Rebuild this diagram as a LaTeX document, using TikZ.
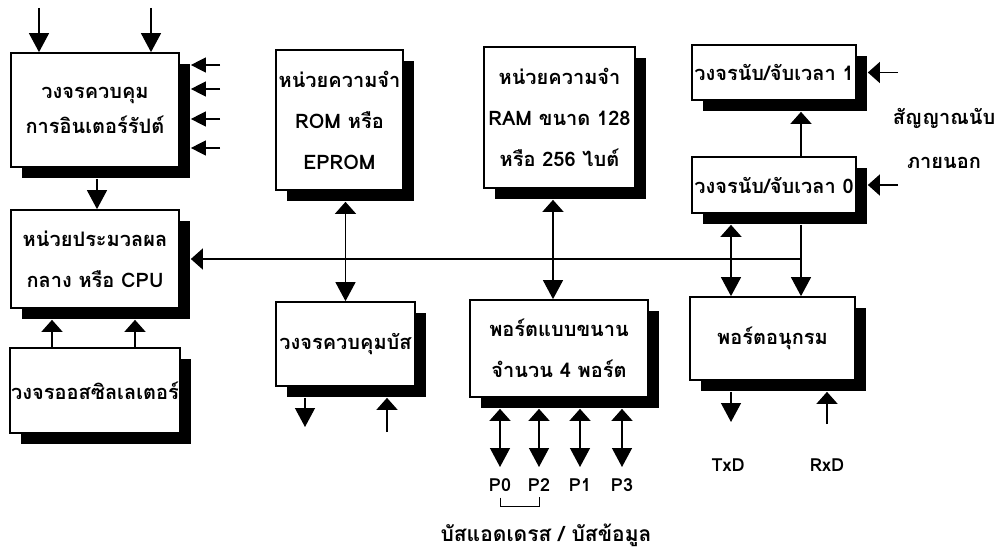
\documentclass[tikz,border=0pt]{standalone}
\usepackage{fontspec}
\newfontfamily\thaifont[Script=Thai]{Loma}
\usetikzlibrary{arrows.meta,shadows}

\begin{document}
\begin{tikzpicture}[x=1pt,y=-1pt,line width=1.3pt,
		font=\thaifont\bfseries\fontsize{20}{22}\selectfont]

		\tikzset{blk/.style={draw, line width=1.7pt, fill=white,
								align=center, inner sep=1pt,
								drop shadow={shadow xshift=11pt, shadow yshift=-11pt,
									opacity=1, fill=black},
								font=\thaifont\bfseries\fontsize{20}{41}\selectfont},
				 pinlbl/.style={font=\thaifont\bfseries\fontsize{18}{20}\selectfont},
				 tipbig/.tip={Triangle[width=20pt,length=19pt]},
				 tipflat/.tip={Triangle[width=21pt,length=12pt]},
				 tipsmall/.tip={Triangle[width=15pt,length=15pt]}}

		\useasboundingbox (0,0) rectangle (1001,553);

		% left column
		\node[blk, minimum width=168pt, minimum height=114pt,
			font=\thaifont\bfseries\fontsize{20}{35}\selectfont] (intc) at (95,110)
			{วงจรควบคุม\\การอินเตอร์รัปต์};
		\node[blk, minimum width=168pt, minimum height=98pt] (cpu) at (95,259)
			{หน่วยประมวลผล\\กลาง หรือ CPU};
		\node[blk, minimum width=168pt, minimum height=85pt] (osc) at (95,390.5)
			{วงจรออสซิลเลเตอร์};

		% memories and ports
		\node[blk, minimum width=127pt, minimum height=140pt] (rom) at (339.5,120)
			{หน่วยความจำ\\ROM หรือ\\EPROM};
		\node[blk, minimum width=139pt, minimum height=84pt] (busc) at (345.5,344)
			{วงจรควบคุมบัส};
		\node[blk, minimum width=151pt, minimum height=141pt] (ram) at (559.5,117.5)
			{หน่วยความจำ\\RAM ขนาด 128\\หรือ 256 ไบต์};
		\node[blk, minimum width=178pt, minimum height=97pt] (pport) at (559,348.5)
			{พอร์ตแบบขนาน\\จำนวน 4 พอร์ต};

		% timers and serial port
		\node[blk, minimum width=164pt, minimum height=55pt] (tmr1) at (774,72.5)
			{วงจรนับ/จับเวลา 1};
		\node[blk, minimum width=164pt, minimum height=56pt] (tmr0) at (774,185)
			{วงจรนับ/จับเวลา 0};
		\node[blk, minimum width=165pt, minimum height=83pt] (sport) at (772.5,338.5)
			{พอร์ตอนุกรม};

		\node (cntlbl) at (944,118) {สัญญาณนับ};
		\node (extlbl) at (944,163) {ภายนอก};

		% interrupt inputs
		\coordinate (irqa) at (39,8);
		\coordinate (irqb) at (151,8);
		\draw[-tipbig] (irqa) -- (irqa |- intc.north);
		\draw[-tipbig] (irqb) -- (irqb |- intc.north);
		\foreach \y [count=\i] in {65,89,119,148} {
			\coordinate (irq\i) at (220,\y);
			\draw[-tipsmall] (irq\i) -- ([xshift=11pt]intc.east |- irq\i);
		}
		\draw[-tipbig] ([xshift=2pt,yshift=-11pt]intc.south) -- ([xshift=2pt]cpu.north);

		% clock
		\draw[-tipflat] ([xshift=-43pt]osc.north) -- ([xshift=-43pt,yshift=-11pt]cpu.south);
		\draw[-tipflat] ([xshift=40pt]osc.north) -- ([xshift=40pt,yshift=-11pt]cpu.south);

		% internal bus
		\coordinate (busj) at ([xshift=27pt]tmr0.south |- cpu.east);
		\draw[-tipflat] (busj) -- ([xshift=11pt]cpu.east);
		\draw[tipflat-tipbig] ([yshift=-11pt]rom.south -| busc.north) -- (busc.north);
		\draw[tipflat-tipbig] ([xshift=-6.5pt,yshift=-11pt]ram.south)
			-- ([xshift=-6.5pt]ram.south |- pport.north);
		\draw[tipflat-tipbig] ([xshift=-43pt,yshift=-11pt]tmr0.south)
			-- ([xshift=-43pt]tmr0.south |- sport.north);
		\draw[-tipbig] ([xshift=27pt,yshift=-11pt]tmr0.south)
			-- ([xshift=27pt]tmr0.south |- sport.north);
		\draw[-tipflat] ([xshift=27pt]tmr0.north) -- ([xshift=27pt,yshift=-11pt]tmr1.south);

		% external counter inputs
		\coordinate (cnt1) at (898,72.5);
		\coordinate (cnt0) at (898,185);
		\draw[-tipflat] (cnt1) -- ([xshift=11pt]tmr1.east);
		\draw[-tipflat] (cnt0) -- ([xshift=11pt]tmr0.east);

		% bus control lines
		\coordinate (bsout) at (305,427);
		\coordinate (bsin) at (387,432);
		\draw[-tipbig] ([yshift=-11pt]busc.south -| bsout) -- (bsout);
		\draw[-tipflat] (bsin) -- ([yshift=-11pt]busc.south -| bsin);

		% port pins
		\foreach \x/\p in {500/P0,539/P2,580/P1,622/P3} {
			\node[pinlbl] (\p) at (\x,485) {\p};
			\coordinate (e\p) at (\x,467);
			\draw[tipbig-tipflat] (e\p) -- ([yshift=-11pt]pport.south -| e\p);
		}
		\draw[line width=1pt] ([yshift=-2pt]P0.south) -- ++(0,9) -| ([yshift=-2pt]P2.south);
		\node[font=\thaifont\bfseries\fontsize{21}{23}\selectfont] (buslbl) at (546,535)
			{บัสแอดเดรส / บัสข้อมูล};

		% serial lines
		\node[pinlbl] (txd) at (728,465) {TxD};
		\node[pinlbl] (rxd) at (827,465) {RxD};
		\coordinate (txo) at (731,422);
		\coordinate (rxi) at (827,424);
		\draw[-tipbig] ([yshift=-11pt]sport.south -| txo) -- (txo);
		\draw[-tipflat] (rxi) -- ([yshift=-11pt]sport.south -| rxi);
\end{tikzpicture}
\end{document}
